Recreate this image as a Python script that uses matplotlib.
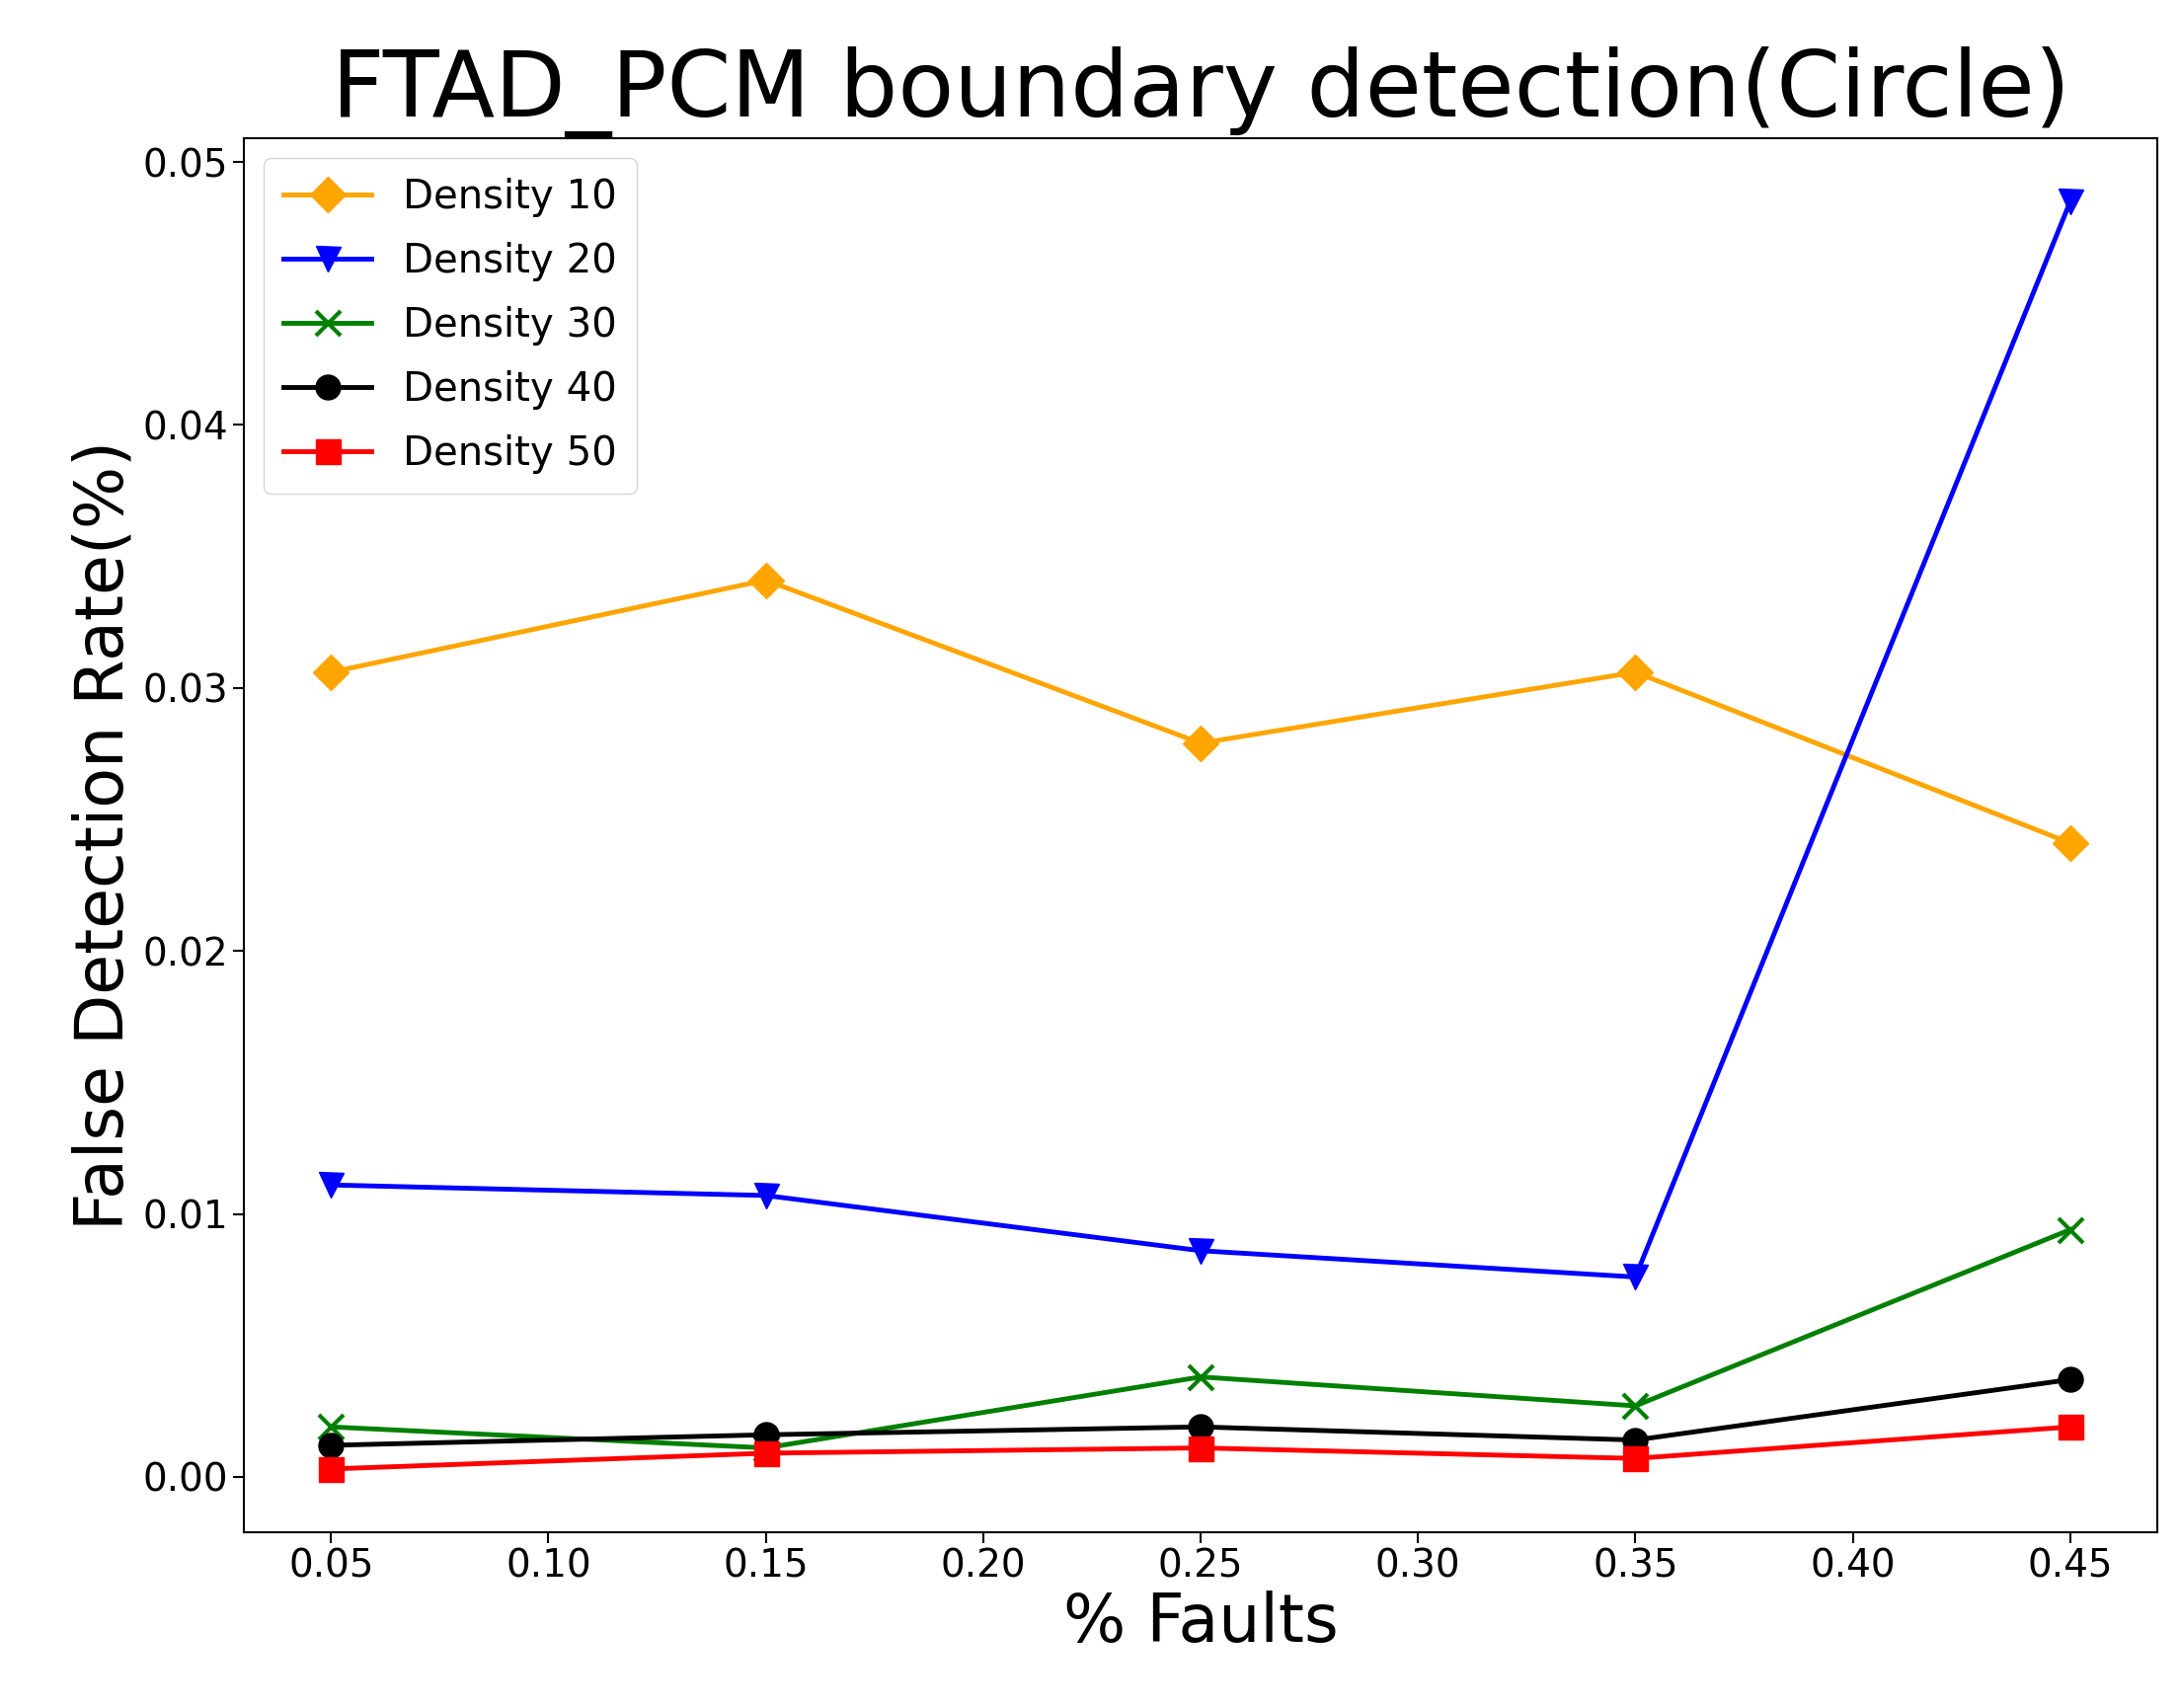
import matplotlib
matplotlib.use("Agg")
import matplotlib.pyplot as plt

faults = [0.05, 0.15, 0.25, 0.35, 0.45]
d10 = [0.0306, 0.0341, 0.0279, 0.0306, 0.0241]
d20 = [0.0111, 0.0107, 0.0086, 0.0076, 0.0485]
d30 = [0.0019, 0.0011, 0.0038, 0.0027, 0.0094]
d40 = [0.0012, 0.0016, 0.0019, 0.0014, 0.0037]
d50 = [0.0003, 0.0009, 0.0011, 0.0007, 0.0019]
labels = ["Density 10", "Density 20", "Density 30", "Density 40", "Density 50"]

fig = plt.figure(figsize=(22.07, 17.3), dpi=100)
ax = fig.add_axes([0.112, 0.103, 0.878, 0.816])
ms = 18
ax.plot(faults, d10, color="orange", marker="D", ms=ms, lw=3.5, label=labels[0])
ax.plot(faults, d20, color="blue", marker="v", ms=ms, lw=3.5, label=labels[1])
ax.plot(faults, d30, color="green", marker="x", ms=ms, mew=3, lw=3.5, label=labels[2])
ax.plot(faults, d40, color="black", marker="o", ms=ms, lw=3.5, label=labels[3])
ax.plot(faults, d50, color="red", marker="s", ms=ms, lw=3.5, label=labels[4])
ax.set_xticks([0.05, 0.10, 0.15, 0.20, 0.25, 0.30, 0.35, 0.40, 0.45])
ax.set_xticklabels(["0.05", "0.10", "0.15", "0.20", "0.25", "0.30", "0.35", "0.40", "0.45"])
ax.set_yticks([0, 0.01, 0.02, 0.03, 0.04, 0.05])
ax.set_yticklabels(["0.00", "0.01", "0.02", "0.03", "0.04", "0.05"])
ax.set_xlim(0.03, 0.47)
ax.set_ylim(-0.0021, 0.0509)
ax.tick_params(labelsize=28, length=8, width=1.5)
for s in ax.spines.values():
    s.set_linewidth(1.5)
ax.set_xlabel("% Faults", fontsize=48)
ax.set_ylabel("False Detection Rate(%)", fontsize=48)
ax.set_title("FTAD_PCM boundary detection(Circle)", fontsize=67, pad=12)
ax.legend(fontsize=29, loc="upper left", handlelength=2.2, borderpad=0.5, labelspacing=0.62)
fig.savefig("out.png", dpi=100)
